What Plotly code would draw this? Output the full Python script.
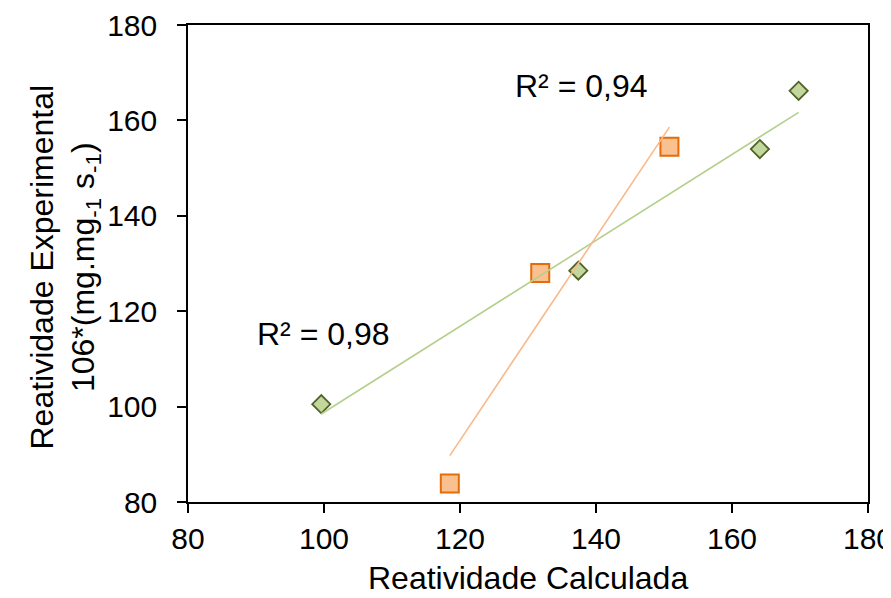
import numpy as np
import plotly.graph_objects as go

# Data
green_x = [99.6, 137.4, 164.1, 169.8]
green_y = [100.5, 128.5, 154.0, 166.2]
orange_x = [118.5, 131.8, 150.8]
orange_y = [83.9, 128.0, 154.5]

x_ticks = [80, 100, 120, 140, 160, 180]
y_ticks = [80, 100, 120, 140, 160, 180]

r2_labels = ["R² = 0,98", "R² = 0,94"]
r2_pos_x = [99.9, 137.9]
r2_pos_y = [115.3, 167.2]

FONT = "Liberation Sans, Arial, sans-serif"
FS = 30
FST = 32

def trend(xs, ys):
    m, b = np.polyfit(xs, ys, 1)
    xx = np.array([min(xs), max(xs)])
    return xx, m * xx + b

fig = go.Figure()

fig.add_trace(go.Scatter(
    x=green_x, y=green_y, mode="markers",
    marker=dict(symbol="diamond", size=14, color="#C3D69B",
                line=dict(color="#4F6228", width=1.8)),
    showlegend=False, hoverinfo="skip"))
fig.add_trace(go.Scatter(
    x=orange_x, y=orange_y, mode="markers",
    marker=dict(symbol="square", size=18, color="#FAC090",
                line=dict(color="#E46C0A", width=2)),
    showlegend=False, hoverinfo="skip"))

gx, gy = trend(green_x, green_y)
ox, oy = trend(orange_x, orange_y)
fig.add_trace(go.Scatter(x=gx, y=gy, mode="lines",
                         line=dict(color="#B5CF8C", width=1.6),
                         showlegend=False, hoverinfo="skip"))
fig.add_trace(go.Scatter(x=ox, y=oy, mode="lines",
                         line=dict(color="#F9B98A", width=1.6),
                         showlegend=False, hoverinfo="skip"))

for t, ax_, ay_ in zip(r2_labels, r2_pos_x, r2_pos_y):
    fig.add_annotation(x=ax_, y=ay_, xref="x", yref="y", text=t,
                       showarrow=False, font=dict(family=FONT, size=FST, color="black"),
                       xanchor="center", yanchor="middle")

fig.add_annotation(x=0, y=0.5, xref="paper", yref="paper",
                   text="Reatividade Experimental<br>106*(mg.mg<sub>-1</sub> s<sub>-1</sub>)",
                   showarrow=False, textangle=-90,
                   font=dict(family=FONT, size=FST, color="black"),
                   xanchor="center", yanchor="middle", xshift=-124, yshift=-4)
fig.add_annotation(x=0.5, y=0, xref="paper", yref="paper",
                   text="Reatividade Calculada", showarrow=False,
                   font=dict(family=FONT, size=FST, color="black"),
                   xanchor="center", yanchor="middle", yshift=-76)

axis_common = dict(showgrid=False, zeroline=False, showline=True, linecolor="black",
                   linewidth=1.5, mirror=True, ticks="outside", ticklen=9,
                   tickcolor="black", tickwidth=1.5, automargin=False,
                   tickfont=dict(family=FONT, size=FS, color="black"))
fig.update_xaxes(range=[80, 180], tickvals=x_ticks, **axis_common)
fig.update_yaxes(range=[80, 180], tickvals=y_ticks, ticklabelstandoff=14, **axis_common)

fig.update_layout(width=891, height=598,
                  margin=dict(l=180, r=31, t=17, b=104),
                  paper_bgcolor="white", plot_bgcolor="white",
                  font=dict(family=FONT, size=FS, color="black"))

fig.write_html("out.html")
